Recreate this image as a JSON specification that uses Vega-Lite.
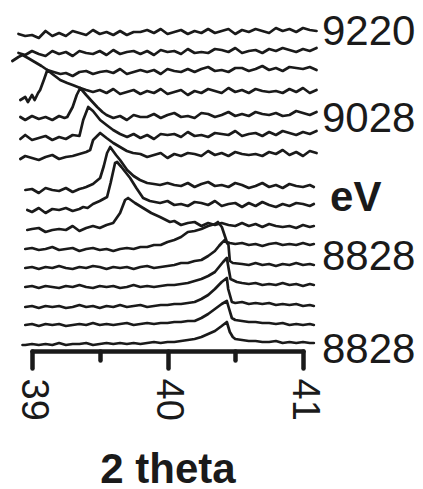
{
"$schema": "https://vega.github.io/schema/vega-lite/v6.json",
"width": 271, "height": 330,
"autosize": {"type": "none"},
"padding": {"left": 32, "top": 21, "right": 120, "bottom": 138},
"background": "white",
"config": {"view": {"stroke": null}},
"datasets": {
"labels": [{"label":"9220","level":319},{"label":"9028","level":232},{"label":"eV","level":153},{"label":"8828","level":94},{"label":"8828","level":1}],
"traces": [
{"scan":1,"x":38.9,"y":317},{"scan":1,"x":38.95,"y":315},{"scan":1,"x":39,"y":316},{"scan":1,"x":39.05,"y":313},{"scan":1,"x":39.1,"y":320},{"scan":1,"x":39.15,"y":315},{"scan":1,"x":39.2,"y":318},{"scan":1,"x":39.25,"y":315},{"scan":1,"x":39.3,"y":320},{"scan":1,"x":39.35,"y":318},{"scan":1,"x":39.4,"y":316},{"scan":1,"x":39.45,"y":321},{"scan":1,"x":39.5,"y":317},{"scan":1,"x":39.55,"y":319},{"scan":1,"x":39.6,"y":316},{"scan":1,"x":39.65,"y":320},{"scan":1,"x":39.7,"y":316},{"scan":1,"x":39.75,"y":319},{"scan":1,"x":39.8,"y":319},{"scan":1,"x":39.85,"y":321},{"scan":1,"x":39.9,"y":318},{"scan":1,"x":39.95,"y":322},{"scan":1,"x":40,"y":317},{"scan":1,"x":40.05,"y":319},{"scan":1,"x":40.1,"y":321},{"scan":1,"x":40.15,"y":317},{"scan":1,"x":40.2,"y":320},{"scan":1,"x":40.25,"y":318},{"scan":1,"x":40.3,"y":322},{"scan":1,"x":40.35,"y":318},{"scan":1,"x":40.4,"y":320},{"scan":1,"x":40.45,"y":322},{"scan":1,"x":40.5,"y":317},{"scan":1,"x":40.55,"y":321},{"scan":1,"x":40.6,"y":319},{"scan":1,"x":40.65,"y":322},{"scan":1,"x":40.7,"y":320},{"scan":1,"x":40.75,"y":318},{"scan":1,"x":40.8,"y":323},{"scan":1,"x":40.85,"y":320},{"scan":1,"x":40.9,"y":322},{"scan":1,"x":40.95,"y":319},{"scan":1,"x":41,"y":323},{"scan":1,"x":41.05,"y":321},{"scan":1,"x":41.1,"y":320},
{"scan":2,"x":38.9,"y":298},{"scan":2,"x":38.95,"y":296},{"scan":2,"x":39,"y":300},{"scan":2,"x":39.05,"y":297},{"scan":2,"x":39.1,"y":295},{"scan":2,"x":39.15,"y":300},{"scan":2,"x":39.2,"y":297},{"scan":2,"x":39.25,"y":299},{"scan":2,"x":39.3,"y":295},{"scan":2,"x":39.35,"y":300},{"scan":2,"x":39.4,"y":298},{"scan":2,"x":39.45,"y":297},{"scan":2,"x":39.5,"y":300},{"scan":2,"x":39.55,"y":296},{"scan":2,"x":39.6,"y":301},{"scan":2,"x":39.65,"y":297},{"scan":2,"x":39.7,"y":299},{"scan":2,"x":39.75,"y":300},{"scan":2,"x":39.8,"y":297},{"scan":2,"x":39.85,"y":300},{"scan":2,"x":39.9,"y":296},{"scan":2,"x":39.95,"y":301},{"scan":2,"x":40,"y":299},{"scan":2,"x":40.05,"y":300},{"scan":2,"x":40.1,"y":297},{"scan":2,"x":40.15,"y":302},{"scan":2,"x":40.2,"y":298},{"scan":2,"x":40.25,"y":299},{"scan":2,"x":40.3,"y":298},{"scan":2,"x":40.35,"y":302},{"scan":2,"x":40.4,"y":301},{"scan":2,"x":40.45,"y":299},{"scan":2,"x":40.5,"y":303},{"scan":2,"x":40.55,"y":298},{"scan":2,"x":40.6,"y":300},{"scan":2,"x":40.65,"y":301},{"scan":2,"x":40.7,"y":298},{"scan":2,"x":40.75,"y":302},{"scan":2,"x":40.8,"y":300},{"scan":2,"x":40.85,"y":303},{"scan":2,"x":40.9,"y":301},{"scan":2,"x":40.95,"y":299},{"scan":2,"x":41,"y":302},{"scan":2,"x":41.05,"y":300},{"scan":2,"x":41.1,"y":303},
{"scan":3,"x":38.855,"y":290},{"scan":3,"x":38.9,"y":294},{"scan":3,"x":38.93,"y":296},{"scan":3,"x":38.97,"y":293},{"scan":3,"x":39.02,"y":289},{"scan":3,"x":39.07,"y":285},{"scan":3,"x":39.113,"y":281},{"scan":3,"x":39.16,"y":279},{"scan":3,"x":39.21,"y":277},{"scan":3,"x":39.25,"y":278},{"scan":3,"x":39.3,"y":275},{"scan":3,"x":39.35,"y":279},{"scan":3,"x":39.4,"y":280},{"scan":3,"x":39.45,"y":277},{"scan":3,"x":39.5,"y":279},{"scan":3,"x":39.55,"y":280},{"scan":3,"x":39.6,"y":278},{"scan":3,"x":39.65,"y":282},{"scan":3,"x":39.7,"y":277},{"scan":3,"x":39.75,"y":279},{"scan":3,"x":39.8,"y":281},{"scan":3,"x":39.85,"y":279},{"scan":3,"x":39.9,"y":281},{"scan":3,"x":39.95,"y":277},{"scan":3,"x":40,"y":282},{"scan":3,"x":40.05,"y":280},{"scan":3,"x":40.1,"y":279},{"scan":3,"x":40.15,"y":282},{"scan":3,"x":40.2,"y":279},{"scan":3,"x":40.25,"y":282},{"scan":3,"x":40.3,"y":284},{"scan":3,"x":40.35,"y":280},{"scan":3,"x":40.4,"y":281},{"scan":3,"x":40.45,"y":279},{"scan":3,"x":40.5,"y":283},{"scan":3,"x":40.55,"y":283},{"scan":3,"x":40.6,"y":280},{"scan":3,"x":40.65,"y":282},{"scan":3,"x":40.7,"y":285},{"scan":3,"x":40.75,"y":281},{"scan":3,"x":40.8,"y":283},{"scan":3,"x":40.85,"y":280},{"scan":3,"x":40.9,"y":284},{"scan":3,"x":40.95,"y":283},{"scan":3,"x":41,"y":282},{"scan":3,"x":41.05,"y":284},{"scan":3,"x":41.1,"y":281},
{"scan":4,"x":38.914,"y":251},{"scan":4,"x":38.95,"y":254},{"scan":4,"x":38.97,"y":249},{"scan":4,"x":39,"y":256},{"scan":4,"x":39.02,"y":251},{"scan":4,"x":39.045,"y":258},{"scan":4,"x":39.06,"y":261},{"scan":4,"x":39.09,"y":272},{"scan":4,"x":39.113,"y":281},{"scan":4,"x":39.15,"y":277},{"scan":4,"x":39.208,"y":271},{"scan":4,"x":39.26,"y":268},{"scan":4,"x":39.3,"y":266},{"scan":4,"x":39.356,"y":263},{"scan":4,"x":39.4,"y":261},{"scan":4,"x":39.45,"y":259},{"scan":4,"x":39.5,"y":261},{"scan":4,"x":39.55,"y":258},{"scan":4,"x":39.6,"y":262},{"scan":4,"x":39.65,"y":257},{"scan":4,"x":39.7,"y":259},{"scan":4,"x":39.75,"y":261},{"scan":4,"x":39.8,"y":257},{"scan":4,"x":39.85,"y":260},{"scan":4,"x":39.9,"y":258},{"scan":4,"x":39.95,"y":262},{"scan":4,"x":40,"y":257},{"scan":4,"x":40.05,"y":259},{"scan":4,"x":40.1,"y":261},{"scan":4,"x":40.15,"y":256},{"scan":4,"x":40.2,"y":260},{"scan":4,"x":40.25,"y":258},{"scan":4,"x":40.3,"y":262},{"scan":4,"x":40.35,"y":260},{"scan":4,"x":40.4,"y":258},{"scan":4,"x":40.45,"y":263},{"scan":4,"x":40.5,"y":259},{"scan":4,"x":40.55,"y":261},{"scan":4,"x":40.6,"y":258},{"scan":4,"x":40.65,"y":262},{"scan":4,"x":40.7,"y":260},{"scan":4,"x":40.75,"y":259},{"scan":4,"x":40.8,"y":260},{"scan":4,"x":40.85,"y":258},{"scan":4,"x":40.9,"y":262},{"scan":4,"x":40.95,"y":259},{"scan":4,"x":41,"y":263},{"scan":4,"x":41.05,"y":258},{"scan":4,"x":41.1,"y":261},
{"scan":5,"x":38.914,"y":234},{"scan":5,"x":38.95,"y":231},{"scan":5,"x":39,"y":235},{"scan":5,"x":39.05,"y":232},{"scan":5,"x":39.1,"y":234},{"scan":5,"x":39.15,"y":231},{"scan":5,"x":39.2,"y":235},{"scan":5,"x":39.24,"y":233},{"scan":5,"x":39.26,"y":234},{"scan":5,"x":39.3,"y":244},{"scan":5,"x":39.33,"y":256},{"scan":5,"x":39.356,"y":263},{"scan":5,"x":39.4,"y":256},{"scan":5,"x":39.44,"y":250},{"scan":5,"x":39.481,"y":244},{"scan":5,"x":39.52,"y":239},{"scan":5,"x":39.55,"y":236},{"scan":5,"x":39.6,"y":233},{"scan":5,"x":39.65,"y":235},{"scan":5,"x":39.7,"y":231},{"scan":5,"x":39.75,"y":236},{"scan":5,"x":39.8,"y":234},{"scan":5,"x":39.85,"y":234},{"scan":5,"x":39.9,"y":237},{"scan":5,"x":39.95,"y":233},{"scan":5,"x":40,"y":236},{"scan":5,"x":40.05,"y":238},{"scan":5,"x":40.1,"y":234},{"scan":5,"x":40.15,"y":235},{"scan":5,"x":40.2,"y":233},{"scan":5,"x":40.25,"y":238},{"scan":5,"x":40.3,"y":237},{"scan":5,"x":40.35,"y":234},{"scan":5,"x":40.4,"y":236},{"scan":5,"x":40.45,"y":239},{"scan":5,"x":40.5,"y":235},{"scan":5,"x":40.55,"y":237},{"scan":5,"x":40.6,"y":235},{"scan":5,"x":40.65,"y":239},{"scan":5,"x":40.7,"y":237},{"scan":5,"x":40.75,"y":236},{"scan":5,"x":40.8,"y":238},{"scan":5,"x":40.85,"y":235},{"scan":5,"x":40.9,"y":236},{"scan":5,"x":40.95,"y":240},{"scan":5,"x":41,"y":238},{"scan":5,"x":41.05,"y":236},{"scan":5,"x":41.1,"y":239},
{"scan":6,"x":38.914,"y":212},{"scan":6,"x":38.95,"y":216},{"scan":6,"x":39,"y":211},{"scan":6,"x":39.05,"y":213},{"scan":6,"x":39.1,"y":215},{"scan":6,"x":39.15,"y":211},{"scan":6,"x":39.2,"y":214},{"scan":6,"x":39.25,"y":212},{"scan":6,"x":39.3,"y":216},{"scan":6,"x":39.35,"y":215},{"scan":6,"x":39.378,"y":231},{"scan":6,"x":39.415,"y":244},{"scan":6,"x":39.45,"y":240},{"scan":6,"x":39.503,"y":231},{"scan":6,"x":39.55,"y":226},{"scan":6,"x":39.599,"y":221},{"scan":6,"x":39.65,"y":217},{"scan":6,"x":39.702,"y":214},{"scan":6,"x":39.75,"y":217},{"scan":6,"x":39.8,"y":213},{"scan":6,"x":39.85,"y":216},{"scan":6,"x":39.9,"y":212},{"scan":6,"x":39.95,"y":217},{"scan":6,"x":40,"y":216},{"scan":6,"x":40.05,"y":217},{"scan":6,"x":40.1,"y":214},{"scan":6,"x":40.15,"y":219},{"scan":6,"x":40.2,"y":215},{"scan":6,"x":40.25,"y":216},{"scan":6,"x":40.3,"y":214},{"scan":6,"x":40.35,"y":218},{"scan":6,"x":40.4,"y":217},{"scan":6,"x":40.45,"y":216},{"scan":6,"x":40.5,"y":220},{"scan":6,"x":40.55,"y":215},{"scan":6,"x":40.6,"y":217},{"scan":6,"x":40.65,"y":218},{"scan":6,"x":40.7,"y":215},{"scan":6,"x":40.75,"y":219},{"scan":6,"x":40.8,"y":216},{"scan":6,"x":40.85,"y":220},{"scan":6,"x":40.9,"y":218},{"scan":6,"x":40.95,"y":216},{"scan":6,"x":41,"y":219},{"scan":6,"x":41.05,"y":217},{"scan":6,"x":41.1,"y":220},
{"scan":7,"x":38.914,"y":192},{"scan":7,"x":38.95,"y":195},{"scan":7,"x":39,"y":193},{"scan":7,"x":39.05,"y":191},{"scan":7,"x":39.1,"y":194},{"scan":7,"x":39.15,"y":196},{"scan":7,"x":39.2,"y":192},{"scan":7,"x":39.25,"y":194},{"scan":7,"x":39.3,"y":195},{"scan":7,"x":39.35,"y":197},{"scan":7,"x":39.4,"y":199},{"scan":7,"x":39.429,"y":201},{"scan":7,"x":39.451,"y":211},{"scan":7,"x":39.503,"y":218},{"scan":7,"x":39.55,"y":213},{"scan":7,"x":39.6,"y":208},{"scan":7,"x":39.65,"y":204},{"scan":7,"x":39.7,"y":200},{"scan":7,"x":39.746,"y":198},{"scan":7,"x":39.8,"y":197},{"scan":7,"x":39.85,"y":194},{"scan":7,"x":39.9,"y":196},{"scan":7,"x":39.95,"y":198},{"scan":7,"x":40,"y":193},{"scan":7,"x":40.05,"y":197},{"scan":7,"x":40.1,"y":195},{"scan":7,"x":40.15,"y":198},{"scan":7,"x":40.2,"y":197},{"scan":7,"x":40.25,"y":195},{"scan":7,"x":40.3,"y":200},{"scan":7,"x":40.35,"y":196},{"scan":7,"x":40.4,"y":198},{"scan":7,"x":40.45,"y":195},{"scan":7,"x":40.5,"y":199},{"scan":7,"x":40.55,"y":197},{"scan":7,"x":40.6,"y":196},{"scan":7,"x":40.65,"y":197},{"scan":7,"x":40.7,"y":195},{"scan":7,"x":40.75,"y":199},{"scan":7,"x":40.8,"y":197},{"scan":7,"x":40.85,"y":201},{"scan":7,"x":40.9,"y":196},{"scan":7,"x":40.95,"y":199},{"scan":7,"x":41,"y":195},{"scan":7,"x":41.05,"y":200},{"scan":7,"x":41.1,"y":198},
{"scan":8,"x":38.951,"y":161},{"scan":8,"x":39,"y":162},{"scan":8,"x":39.05,"y":158},{"scan":8,"x":39.1,"y":163},{"scan":8,"x":39.15,"y":161},{"scan":8,"x":39.2,"y":160},{"scan":8,"x":39.25,"y":163},{"scan":8,"x":39.3,"y":159},{"scan":8,"x":39.35,"y":162},{"scan":8,"x":39.378,"y":163},{"scan":8,"x":39.4,"y":164},{"scan":8,"x":39.45,"y":167},{"scan":8,"x":39.503,"y":173},{"scan":8,"x":39.53,"y":185},{"scan":8,"x":39.554,"y":198},{"scan":8,"x":39.577,"y":204},{"scan":8,"x":39.62,"y":196},{"scan":8,"x":39.65,"y":191},{"scan":8,"x":39.702,"y":181},{"scan":8,"x":39.75,"y":175},{"scan":8,"x":39.797,"y":171},{"scan":8,"x":39.85,"y":168},{"scan":8,"x":39.9,"y":167},{"scan":8,"x":39.945,"y":166},{"scan":8,"x":40,"y":168},{"scan":8,"x":40.05,"y":166},{"scan":8,"x":40.1,"y":165},{"scan":8,"x":40.15,"y":168},{"scan":8,"x":40.2,"y":164},{"scan":8,"x":40.25,"y":167},{"scan":8,"x":40.3,"y":169},{"scan":8,"x":40.35,"y":165},{"scan":8,"x":40.4,"y":166},{"scan":8,"x":40.45,"y":164},{"scan":8,"x":40.5,"y":168},{"scan":8,"x":40.55,"y":166},{"scan":8,"x":40.6,"y":163},{"scan":8,"x":40.65,"y":165},{"scan":8,"x":40.7,"y":168},{"scan":8,"x":40.75,"y":164},{"scan":8,"x":40.8,"y":166},{"scan":8,"x":40.85,"y":163},{"scan":8,"x":40.9,"y":167},{"scan":8,"x":40.95,"y":165},{"scan":8,"x":41,"y":164},{"scan":8,"x":41.05,"y":166},{"scan":8,"x":41.08,"y":164},
{"scan":9,"x":38.965,"y":141},{"scan":9,"x":39,"y":139},{"scan":9,"x":39.05,"y":143},{"scan":9,"x":39.1,"y":138},{"scan":9,"x":39.15,"y":142},{"scan":9,"x":39.2,"y":141},{"scan":9,"x":39.25,"y":143},{"scan":9,"x":39.3,"y":140},{"scan":9,"x":39.35,"y":142},{"scan":9,"x":39.378,"y":144},{"scan":9,"x":39.41,"y":143},{"scan":9,"x":39.45,"y":147},{"scan":9,"x":39.5,"y":150},{"scan":9,"x":39.554,"y":154},{"scan":9,"x":39.58,"y":168},{"scan":9,"x":39.613,"y":188},{"scan":9,"x":39.628,"y":189},{"scan":9,"x":39.66,"y":184},{"scan":9,"x":39.724,"y":173},{"scan":9,"x":39.77,"y":163},{"scan":9,"x":39.82,"y":153},{"scan":9,"x":39.87,"y":150},{"scan":9,"x":39.945,"y":148},{"scan":9,"x":40,"y":150},{"scan":9,"x":40.05,"y":146},{"scan":9,"x":40.1,"y":147},{"scan":9,"x":40.15,"y":145},{"scan":9,"x":40.2,"y":149},{"scan":9,"x":40.25,"y":148},{"scan":9,"x":40.3,"y":146},{"scan":9,"x":40.35,"y":150},{"scan":9,"x":40.4,"y":145},{"scan":9,"x":40.45,"y":147},{"scan":9,"x":40.5,"y":148},{"scan":9,"x":40.55,"y":144},{"scan":9,"x":40.6,"y":148},{"scan":9,"x":40.65,"y":145},{"scan":9,"x":40.7,"y":149},{"scan":9,"x":40.75,"y":146},{"scan":9,"x":40.8,"y":144},{"scan":9,"x":40.85,"y":147},{"scan":9,"x":40.9,"y":145},{"scan":9,"x":40.95,"y":148},{"scan":9,"x":41,"y":147},{"scan":9,"x":41.05,"y":145},{"scan":9,"x":41.08,"y":147},
{"scan":10,"x":38.965,"y":121},{"scan":10,"x":39,"y":122},{"scan":10,"x":39.05,"y":123},{"scan":10,"x":39.1,"y":119},{"scan":10,"x":39.15,"y":121},{"scan":10,"x":39.2,"y":122},{"scan":10,"x":39.25,"y":121},{"scan":10,"x":39.3,"y":125},{"scan":10,"x":39.35,"y":120},{"scan":10,"x":39.4,"y":123},{"scan":10,"x":39.45,"y":125},{"scan":10,"x":39.5,"y":123},{"scan":10,"x":39.55,"y":126},{"scan":10,"x":39.599,"y":128},{"scan":10,"x":39.65,"y":138},{"scan":10,"x":39.687,"y":151},{"scan":10,"x":39.709,"y":153},{"scan":10,"x":39.76,"y":148},{"scan":10,"x":39.82,"y":143},{"scan":10,"x":39.88,"y":138},{"scan":10,"x":39.945,"y":134},{"scan":10,"x":40.018,"y":129},{"scan":10,"x":40.05,"y":130},{"scan":10,"x":40.1,"y":126},{"scan":10,"x":40.15,"y":128},{"scan":10,"x":40.2,"y":129},{"scan":10,"x":40.25,"y":125},{"scan":10,"x":40.3,"y":128},{"scan":10,"x":40.35,"y":126},{"scan":10,"x":40.4,"y":128},{"scan":10,"x":40.45,"y":126},{"scan":10,"x":40.5,"y":125},{"scan":10,"x":40.55,"y":128},{"scan":10,"x":40.6,"y":125},{"scan":10,"x":40.65,"y":127},{"scan":10,"x":40.7,"y":124},{"scan":10,"x":40.75,"y":127},{"scan":10,"x":40.8,"y":125},{"scan":10,"x":40.85,"y":124},{"scan":10,"x":40.9,"y":125},{"scan":10,"x":40.95,"y":123},{"scan":10,"x":41,"y":126},{"scan":10,"x":41.05,"y":124},{"scan":10,"x":41.08,"y":125},
{"scan":11,"x":38.95,"y":102},{"scan":11,"x":39,"y":103},{"scan":11,"x":39.05,"y":101},{"scan":11,"x":39.1,"y":102},{"scan":11,"x":39.15,"y":104},{"scan":11,"x":39.2,"y":101},{"scan":11,"x":39.25,"y":102},{"scan":11,"x":39.3,"y":103},{"scan":11,"x":39.35,"y":100},{"scan":11,"x":39.4,"y":102},{"scan":11,"x":39.45,"y":103},{"scan":11,"x":39.5,"y":101},{"scan":11,"x":39.55,"y":102},{"scan":11,"x":39.6,"y":100},{"scan":11,"x":39.65,"y":102},{"scan":11,"x":39.7,"y":103},{"scan":11,"x":39.75,"y":102},{"scan":11,"x":39.8,"y":104},{"scan":11,"x":39.85,"y":104},{"scan":11,"x":39.9,"y":106},{"scan":11,"x":39.95,"y":106},{"scan":11,"x":40,"y":109},{"scan":11,"x":40.05,"y":111},{"scan":11,"x":40.1,"y":114},{"scan":11,"x":40.15,"y":119},{"scan":11,"x":40.2,"y":120},{"scan":11,"x":40.25,"y":122},{"scan":11,"x":40.3,"y":125},{"scan":11,"x":40.35,"y":127},{"scan":11,"x":40.372,"y":129},{"scan":11,"x":40.401,"y":124},{"scan":11,"x":40.438,"y":109},{"scan":11,"x":40.46,"y":108},{"scan":11,"x":40.5,"y":107},{"scan":11,"x":40.55,"y":108},{"scan":11,"x":40.6,"y":106},{"scan":11,"x":40.65,"y":107},{"scan":11,"x":40.7,"y":105},{"scan":11,"x":40.75,"y":107},{"scan":11,"x":40.8,"y":108},{"scan":11,"x":40.85,"y":106},{"scan":11,"x":40.9,"y":107},{"scan":11,"x":40.95,"y":106},{"scan":11,"x":41,"y":108},{"scan":11,"x":41.05,"y":106},{"scan":11,"x":41.08,"y":107},
{"scan":12,"x":38.95,"y":83},{"scan":12,"x":39,"y":84},{"scan":12,"x":39.05,"y":82},{"scan":12,"x":39.1,"y":84},{"scan":12,"x":39.15,"y":83},{"scan":12,"x":39.2,"y":85},{"scan":12,"x":39.25,"y":83},{"scan":12,"x":39.3,"y":82},{"scan":12,"x":39.35,"y":84},{"scan":12,"x":39.4,"y":83},{"scan":12,"x":39.45,"y":85},{"scan":12,"x":39.5,"y":84},{"scan":12,"x":39.55,"y":82},{"scan":12,"x":39.6,"y":84},{"scan":12,"x":39.65,"y":83},{"scan":12,"x":39.7,"y":84},{"scan":12,"x":39.75,"y":82},{"scan":12,"x":39.8,"y":84},{"scan":12,"x":39.85,"y":85},{"scan":12,"x":39.9,"y":83},{"scan":12,"x":39.95,"y":84},{"scan":12,"x":40,"y":85},{"scan":12,"x":40.05,"y":86},{"scan":12,"x":40.1,"y":88},{"scan":12,"x":40.15,"y":88},{"scan":12,"x":40.2,"y":90},{"scan":12,"x":40.25,"y":91},{"scan":12,"x":40.3,"y":95},{"scan":12,"x":40.35,"y":100},{"scan":12,"x":40.38,"y":105},{"scan":12,"x":40.4,"y":108},{"scan":12,"x":40.423,"y":111},{"scan":12,"x":40.45,"y":106},{"scan":12,"x":40.46,"y":90},{"scan":12,"x":40.482,"y":88},{"scan":12,"x":40.55,"y":87},{"scan":12,"x":40.6,"y":86},{"scan":12,"x":40.65,"y":88},{"scan":12,"x":40.7,"y":86},{"scan":12,"x":40.75,"y":87},{"scan":12,"x":40.8,"y":85},{"scan":12,"x":40.85,"y":87},{"scan":12,"x":40.9,"y":86},{"scan":12,"x":40.95,"y":88},{"scan":12,"x":41,"y":86},{"scan":12,"x":41.05,"y":87},{"scan":12,"x":41.08,"y":86},
{"scan":13,"x":38.95,"y":64},{"scan":13,"x":39,"y":65},{"scan":13,"x":39.05,"y":63},{"scan":13,"x":39.1,"y":65},{"scan":13,"x":39.15,"y":64},{"scan":13,"x":39.2,"y":63},{"scan":13,"x":39.25,"y":65},{"scan":13,"x":39.3,"y":64},{"scan":13,"x":39.35,"y":66},{"scan":13,"x":39.4,"y":64},{"scan":13,"x":39.45,"y":63},{"scan":13,"x":39.5,"y":65},{"scan":13,"x":39.55,"y":64},{"scan":13,"x":39.6,"y":65},{"scan":13,"x":39.65,"y":63},{"scan":13,"x":39.7,"y":64},{"scan":13,"x":39.75,"y":66},{"scan":13,"x":39.8,"y":64},{"scan":13,"x":39.85,"y":65},{"scan":13,"x":39.9,"y":64},{"scan":13,"x":39.95,"y":65},{"scan":13,"x":40,"y":66},{"scan":13,"x":40.05,"y":66},{"scan":13,"x":40.1,"y":67},{"scan":13,"x":40.15,"y":68},{"scan":13,"x":40.2,"y":70},{"scan":13,"x":40.25,"y":72},{"scan":13,"x":40.3,"y":75},{"scan":13,"x":40.35,"y":79},{"scan":13,"x":40.38,"y":84},{"scan":13,"x":40.41,"y":89},{"scan":13,"x":40.438,"y":93},{"scan":13,"x":40.453,"y":81},{"scan":13,"x":40.465,"y":72},{"scan":13,"x":40.512,"y":69},{"scan":13,"x":40.55,"y":68},{"scan":13,"x":40.6,"y":67},{"scan":13,"x":40.65,"y":68},{"scan":13,"x":40.7,"y":66},{"scan":13,"x":40.75,"y":67},{"scan":13,"x":40.8,"y":66},{"scan":13,"x":40.85,"y":68},{"scan":13,"x":40.9,"y":66},{"scan":13,"x":40.95,"y":67},{"scan":13,"x":41,"y":65},{"scan":13,"x":41.05,"y":67},{"scan":13,"x":41.08,"y":66},
{"scan":14,"x":38.95,"y":44},{"scan":14,"x":39,"y":45},{"scan":14,"x":39.05,"y":43},{"scan":14,"x":39.1,"y":45},{"scan":14,"x":39.15,"y":44},{"scan":14,"x":39.2,"y":45},{"scan":14,"x":39.25,"y":43},{"scan":14,"x":39.3,"y":44},{"scan":14,"x":39.35,"y":46},{"scan":14,"x":39.4,"y":44},{"scan":14,"x":39.45,"y":45},{"scan":14,"x":39.5,"y":43},{"scan":14,"x":39.55,"y":45},{"scan":14,"x":39.6,"y":44},{"scan":14,"x":39.65,"y":46},{"scan":14,"x":39.7,"y":44},{"scan":14,"x":39.75,"y":45},{"scan":14,"x":39.8,"y":46},{"scan":14,"x":39.85,"y":44},{"scan":14,"x":39.9,"y":45},{"scan":14,"x":39.95,"y":46},{"scan":14,"x":40,"y":46},{"scan":14,"x":40.05,"y":47},{"scan":14,"x":40.1,"y":47},{"scan":14,"x":40.15,"y":48},{"scan":14,"x":40.2,"y":49},{"scan":14,"x":40.25,"y":52},{"scan":14,"x":40.3,"y":56},{"scan":14,"x":40.35,"y":62},{"scan":14,"x":40.4,"y":69},{"scan":14,"x":40.438,"y":73},{"scan":14,"x":40.448,"y":62},{"scan":14,"x":40.475,"y":49},{"scan":14,"x":40.5,"y":48},{"scan":14,"x":40.55,"y":49},{"scan":14,"x":40.6,"y":47},{"scan":14,"x":40.65,"y":48},{"scan":14,"x":40.7,"y":47},{"scan":14,"x":40.75,"y":48},{"scan":14,"x":40.8,"y":46},{"scan":14,"x":40.85,"y":47},{"scan":14,"x":40.9,"y":46},{"scan":14,"x":40.95,"y":47},{"scan":14,"x":41,"y":45},{"scan":14,"x":41.05,"y":46},{"scan":14,"x":41.08,"y":45},
{"scan":15,"x":38.95,"y":26},{"scan":15,"x":39,"y":27},{"scan":15,"x":39.05,"y":25},{"scan":15,"x":39.1,"y":27},{"scan":15,"x":39.15,"y":26},{"scan":15,"x":39.2,"y":27},{"scan":15,"x":39.25,"y":25},{"scan":15,"x":39.3,"y":26},{"scan":15,"x":39.35,"y":27},{"scan":15,"x":39.4,"y":26},{"scan":15,"x":39.45,"y":28},{"scan":15,"x":39.5,"y":26},{"scan":15,"x":39.55,"y":27},{"scan":15,"x":39.6,"y":26},{"scan":15,"x":39.65,"y":27},{"scan":15,"x":39.7,"y":28},{"scan":15,"x":39.75,"y":26},{"scan":15,"x":39.8,"y":27},{"scan":15,"x":39.85,"y":28},{"scan":15,"x":39.9,"y":27},{"scan":15,"x":39.95,"y":28},{"scan":15,"x":40,"y":28},{"scan":15,"x":40.05,"y":29},{"scan":15,"x":40.1,"y":29},{"scan":15,"x":40.15,"y":30},{"scan":15,"x":40.2,"y":30},{"scan":15,"x":40.25,"y":33},{"scan":15,"x":40.3,"y":37},{"scan":15,"x":40.35,"y":42},{"scan":15,"x":40.4,"y":47},{"scan":15,"x":40.438,"y":50},{"scan":15,"x":40.455,"y":42},{"scan":15,"x":40.475,"y":33},{"scan":15,"x":40.5,"y":31},{"scan":15,"x":40.55,"y":30},{"scan":15,"x":40.6,"y":29},{"scan":15,"x":40.65,"y":29},{"scan":15,"x":40.7,"y":28},{"scan":15,"x":40.75,"y":28},{"scan":15,"x":40.8,"y":27},{"scan":15,"x":40.85,"y":28},{"scan":15,"x":40.9,"y":26},{"scan":15,"x":40.95,"y":27},{"scan":15,"x":41,"y":26},{"scan":15,"x":41.05,"y":27},{"scan":15,"x":41.08,"y":26},
{"scan":16,"x":38.93,"y":6},{"scan":16,"x":38.95,"y":6},{"scan":16,"x":39,"y":7},{"scan":16,"x":39.05,"y":6},{"scan":16,"x":39.1,"y":7},{"scan":16,"x":39.15,"y":6},{"scan":16,"x":39.2,"y":8},{"scan":16,"x":39.25,"y":6},{"scan":16,"x":39.3,"y":7},{"scan":16,"x":39.35,"y":7},{"scan":16,"x":39.4,"y":8},{"scan":16,"x":39.45,"y":6},{"scan":16,"x":39.5,"y":7},{"scan":16,"x":39.55,"y":8},{"scan":16,"x":39.6,"y":7},{"scan":16,"x":39.65,"y":8},{"scan":16,"x":39.7,"y":7},{"scan":16,"x":39.75,"y":8},{"scan":16,"x":39.8,"y":7},{"scan":16,"x":39.85,"y":8},{"scan":16,"x":39.9,"y":9},{"scan":16,"x":39.95,"y":8},{"scan":16,"x":40,"y":9},{"scan":16,"x":40.05,"y":9},{"scan":16,"x":40.1,"y":10},{"scan":16,"x":40.15,"y":11},{"scan":16,"x":40.2,"y":12},{"scan":16,"x":40.25,"y":14},{"scan":16,"x":40.3,"y":17},{"scan":16,"x":40.35,"y":20},{"scan":16,"x":40.4,"y":25},{"scan":16,"x":40.438,"y":29},{"scan":16,"x":40.46,"y":19},{"scan":16,"x":40.482,"y":14},{"scan":16,"x":40.5,"y":12},{"scan":16,"x":40.55,"y":11},{"scan":16,"x":40.6,"y":10},{"scan":16,"x":40.65,"y":10},{"scan":16,"x":40.7,"y":9},{"scan":16,"x":40.75,"y":9},{"scan":16,"x":40.8,"y":10},{"scan":16,"x":40.85,"y":8},{"scan":16,"x":40.9,"y":9},{"scan":16,"x":40.95,"y":8},{"scan":16,"x":41,"y":9},{"scan":16,"x":41.05,"y":8},{"scan":16,"x":41.08,"y":8}
]
},
"layer": [
{
"data": {"name": "traces"},
"mark": {"type": "line", "color": "#1a1a1a", "strokeWidth": 2.7, "strokeJoin": "round", "strokeCap": "round"},
"encoding": {
"x": {"field": "x", "type": "quantitative", "scale": {"domain": [39, 41], "nice": false, "zero": false},
"axis": {"values": [39, 39.5, 40, 40.5, 41], "grid": false, "domain": true, "domainColor": "#1a1a1a", "domainWidth": 4.5, "domainCap": "round",
"ticks": true, "tickColor": "#1a1a1a", "tickWidth": 4.5, "tickCap": "round",
"tickSize": {"condition": {"test": "datum.value % 1 === 0", "value": 17}, "value": 9},
"labelExpr": "datum.value % 1 === 0 ? format(datum.value, 'd') : ''",
"labelAngle": 90, "labelFont": "Liberation Sans", "labelFontSize": 38, "labelColor": "#1a1a1a", "labelPadding": 10, "labelFlush": false, "labelOverlap": false,
"title": "2 theta", "titleFont": "Liberation Sans", "titleFontSize": 42, "titleFontWeight": "bold", "titleColor": "#1a1a1a", "titlePadding": 29}},
"y": {"field": "y", "type": "quantitative", "scale": {"domain": [0, 330], "nice": false, "zero": false}, "axis": null},
"detail": {"field": "scan", "type": "nominal"}
}
},
{
"data": {"name": "labels"},
"transform": [{"filter": "datum.label !== 'eV'"}],
"mark": {"type": "text", "align": "left", "baseline": "middle", "font": "Liberation Sans", "fontSize": 42, "color": "#1a1a1a"},
"encoding": {
"x": {"datum": 41.14, "type": "quantitative"},
"y": {"field": "level", "type": "quantitative"},
"text": {"field": "label"}
}
},
{
"data": {"name": "labels"},
"transform": [{"filter": "datum.label === 'eV'"}],
"mark": {"type": "text", "align": "left", "baseline": "middle", "font": "Liberation Sans", "fontSize": 42, "fontWeight": "bold", "color": "#1a1a1a"},
"encoding": {
"x": {"datum": 41.2, "type": "quantitative"},
"y": {"field": "level", "type": "quantitative"},
"text": {"field": "label"}
}
}
]
}
